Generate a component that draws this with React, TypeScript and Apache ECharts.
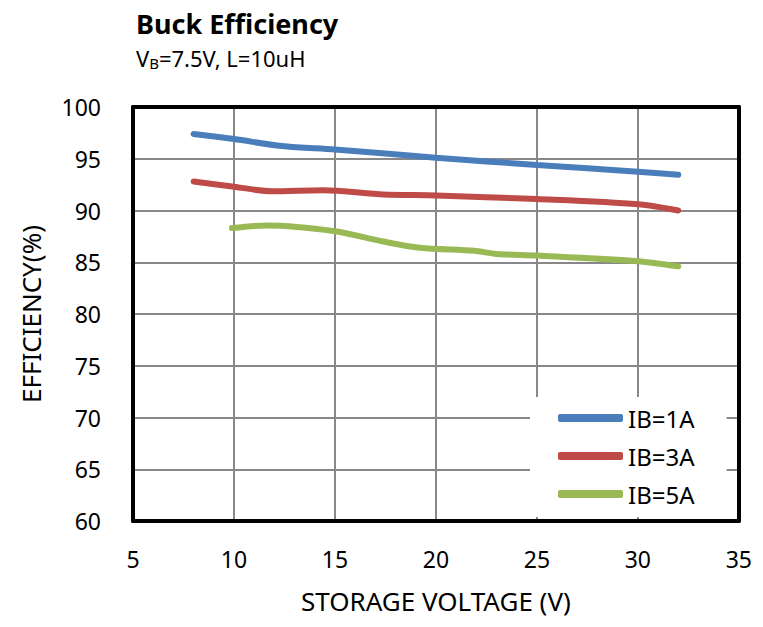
import React, { useEffect, useRef } from "react";
import * as echarts from "echarts";

const seriesNames = ["IB=1A", "IB=3A", "IB=5A"];
const ib1: [number, number][] = [[8, 97.4], [10, 96.9], [12.5, 96.2], [15, 95.9], [20, 95.1], [25, 94.4], [30, 93.75], [32, 93.45]];
const ib3: [number, number][] = [[8, 92.8], [10, 92.3], [11.9, 91.85], [14.4, 91.95], [17.4, 91.55], [20, 91.45], [25, 91.1], [30, 90.6], [32, 90.0]];
const ib5: [number, number][] = [[9.9, 88.3], [11.6, 88.55], [15, 88.0], [17.4, 87.0], [19.2, 86.4], [21.9, 86.1], [23, 85.8], [25, 85.65], [30, 85.1], [32, 84.6]];
const colors = ["#4a7ebb", "#be4b48", "#98b954"];
const FONT = "'Noto Sans', sans-serif";

const borderAxis = {
  type: "value",
  axisLine: { show: true, lineStyle: { color: "#000", width: 4 } },
  axisTick: { show: false },
  axisLabel: { show: false },
  splitLine: { show: false },
};

export default function App() {
  const ref = useRef<HTMLDivElement>(null);
  useEffect(() => {
    const chart = echarts.init(ref.current!, null, { renderer: "svg" });
    const data = [ib1, ib3, ib5];
    chart.setOption({
      animation: false,
      textStyle: { fontFamily: FONT },
      graphic: [
        {
          type: "text",
          left: 128,
          top: 2,
          style: {
            text: "Buck Efficiency",
            fontFamily: FONT,
            fontSize: 27,
            fontWeight: "bold",
            fill: "#000",
          },
        },
      ],
      title: [
        {
          text: "{n|V}{s|B}{n|=7.5V, L=10uH}",
          left: 128,
          top: 37,
          padding: 0,
          textStyle: {
            fontFamily: FONT,
            color: "#000",
            rich: {
              n: { fontSize: 22, color: "#000", fontFamily: FONT, fontWeight: "normal" },
              s: { fontSize: 15, color: "#000", fontFamily: FONT, fontWeight: "normal", verticalAlign: "bottom", padding: [10, 0, 0, 0] },
            },
          },
        },
      ],
      grid: {
        left: 125,
        top: 99,
        right: 10,
        bottom: 91,
      },
      xAxis: [
        {
          type: "value",
          min: 5,
          max: 35,
          interval: 5,
          name: "STORAGE VOLTAGE (V)",
          nameLocation: "middle",
          nameGap: 67,
          nameTextStyle: { fontSize: 26, color: "#000", fontFamily: FONT },
          axisLine: { show: true, onZero: false, lineStyle: { color: "#000", width: 4 } },
          axisTick: { show: false },
          axisLabel: { fontSize: 23, color: "#000", margin: 26, fontFamily: FONT },
          splitLine: { show: true, lineStyle: { color: "#888", width: 2 } },
        },
        { ...borderAxis, position: "top", min: 5, max: 35 },
      ],
      yAxis: [
        {
          type: "value",
          min: 60,
          max: 100,
          interval: 5,
          name: "EFFICIENCY(%)",
          nameLocation: "middle",
          nameGap: 89,
          nameTextStyle: { fontSize: 26, color: "#000", fontFamily: FONT },
          axisLine: { show: true, onZero: false, lineStyle: { color: "#000", width: 4 } },
          axisTick: { show: false },
          axisLabel: { fontSize: 23, color: "#000", margin: 32, fontFamily: FONT },
          splitLine: { show: true, lineStyle: { color: "#888", width: 2 } },
        },
        { ...borderAxis, position: "right", min: 60, max: 100 },
      ],
      legend: {
        orient: "vertical",
        left: 522,
        top: 389,
        width: 136,
        padding: [9, 32, 11, 28],
        backgroundColor: "#fff",
        itemGap: 14,
        itemWidth: 65,
        itemHeight: 8,
        icon: "roundRect",
        textStyle: { fontSize: 24, lineHeight: 24, color: "#000", fontFamily: FONT },
        data: seriesNames,
      },
      series: data.map((d, i) => ({
        name: seriesNames[i],
        type: "line",
        data: d,
        smooth: 0.3,
        showSymbol: false,
        symbol: "none",
        z: 3,
        lineStyle: { width: 6, color: colors[i], cap: "round" },
        itemStyle: { color: colors[i] },
      })),
    });
    return () => chart.dispose();
  }, []);
  return <div ref={ref} style={{ width: 747, height: 611 }} />;
}
